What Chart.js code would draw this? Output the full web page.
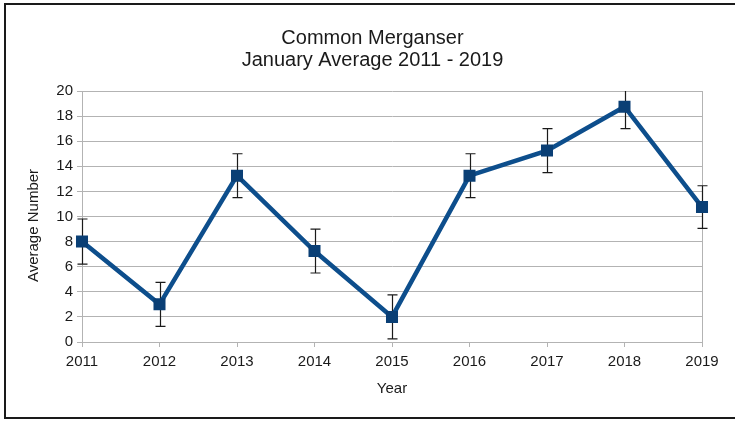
<!DOCTYPE html>
<html>
<head>
<meta charset="utf-8">
<script src="https://cdn.jsdelivr.net/npm/chart.js@4/dist/chart.umd.min.js"></script>
<style>
  html, body { margin: 0; padding: 0; background: #ffffff; }
  #wrap { width: 735px; height: 421px; }
</style>
</head>
<body>
<div id="wrap"><canvas id="c" width="735" height="421"></canvas></div>
<script>
// January averages of Common Merganser counts, with error bar half-widths
const years = ['2011', '2012', '2013', '2014', '2015', '2016', '2017', '2018', '2019'];
const averages = [8.0, 3.0, 13.25, 7.25, 2.0, 13.25, 15.25, 18.75, 10.75];
const errors = [1.8, 1.75, 1.75, 1.75, 1.75, 1.75, 1.75, 1.75, 1.7];
const yTicks = [0, 2, 4, 6, 8, 10, 12, 14, 16, 18, 20];
const yTitle = 'Average Number';

const GRID = '#b3b3b3';
const INK = '#1a1a1a';
const FONT = "'Liberation Sans', Arial, sans-serif";

// White page with a dark frame around the chart
const framePlugin = {
  id: 'frame',
  beforeDraw(chart) {
    const ctx = chart.ctx;
    ctx.save();
    ctx.fillStyle = '#ffffff';
    ctx.fillRect(0, 0, chart.width, chart.height);
    ctx.strokeStyle = INK;
    ctx.lineWidth = 2;
    ctx.strokeRect(5, 4, chart.width + 10, 414);
    ctx.restore();
  }
};

// Vertical error bars with caps, drawn underneath the line and markers,
// clipped to the plot area
const errorBarPlugin = {
  id: 'errorBars',
  beforeDatasetsDraw(chart) {
    const ctx = chart.ctx;
    const xs = chart.scales.x;
    const ys = chart.scales.y;
    const area = chart.chartArea;
    ctx.save();
    ctx.beginPath();
    ctx.rect(area.left - 10, area.top, area.right - area.left + 20, area.bottom - area.top);
    ctx.clip();
    ctx.strokeStyle = INK;
    ctx.lineWidth = 1.2;
    const cap = 5;
    averages.forEach((v, i) => {
      const x = Math.round(xs.getPixelForValue(i)) + 0.5;
      const yTop = ys.getPixelForValue(v + errors[i]);
      const yBot = ys.getPixelForValue(v - errors[i]);
      ctx.beginPath();
      ctx.moveTo(x, yTop);
      ctx.lineTo(x, yBot);
      ctx.moveTo(x - cap, yTop);
      ctx.lineTo(x + cap, yTop);
      ctx.moveTo(x - cap, yBot);
      ctx.lineTo(x + cap, yBot);
      ctx.stroke();
    });
    ctx.restore();
  }
};

// Rotated value-axis title, sitting a little below the plot's middle
const yTitlePlugin = {
  id: 'yTitle',
  afterDraw(chart) {
    const ctx = chart.ctx;
    const area = chart.chartArea;
    ctx.save();
    ctx.translate(34, (area.top + area.bottom) / 2 + 9);
    ctx.rotate(-Math.PI / 2);
    ctx.fillStyle = INK;
    ctx.font = '15px ' + FONT;
    ctx.textAlign = 'center';
    ctx.textBaseline = 'middle';
    ctx.fillText(yTitle, 0, 0);
    ctx.restore();
  }
};

new Chart(document.getElementById('c'), {
  type: 'line',
  data: {
    labels: years,
    datasets: [{
      data: averages,
      borderColor: '#0d4e8c',
      borderWidth: 4.5,
      backgroundColor: '#0a3f75',
      pointStyle: 'rect',
      pointRadius: 8.5,
      pointBackgroundColor: '#0a3f75',
      pointBorderColor: '#0a3f75',
      pointBorderWidth: 0,
      tension: 0,
      fill: false
    }]
  },
  options: {
    responsive: false,
    animation: false,
    devicePixelRatio: 1,
    layout: { padding: { left: 10, right: 0, top: 0, bottom: 0 } },
    plugins: {
      legend: { display: false },
      tooltip: { enabled: false },
      title: {
        display: true,
        text: ['Common Merganser', 'January Average 2011 - 2019'],
        color: INK,
        font: { family: FONT, size: 20, weight: 'normal', lineHeight: 21.5 / 20 },
        padding: { top: 28, bottom: 20 }
      }
    },
    scales: {
      x: {
        type: 'category',
        offset: false,
        afterFit(scale) { scale.height = 79; scale.paddingRight = 33; },
        border: { display: true, color: GRID, width: 1 },
        grid: {
          display: true,
          drawOnChartArea: true,
          drawTicks: true,
          tickLength: 5,
          color: (c) => (c.index === years.length - 1 ? GRID : 'rgba(0,0,0,0)'),
          tickColor: GRID
        },
        ticks: {
          color: INK,
          font: { family: FONT, size: 15 },
          padding: 6,
          maxRotation: 0,
          autoSkip: false
        },
        title: {
          display: true,
          text: 'Year',
          color: INK,
          font: { family: FONT, size: 15 },
          padding: { top: 0, bottom: 23 }
        }
      },
      y: {
        type: 'linear',
        min: 0,
        max: 20,
        afterFit(scale) { scale.width = 72; },
        afterBuildTicks(scale) { scale.ticks = yTicks.map(v => ({ value: v })); },
        border: { display: true, color: GRID, width: 1 },
        grid: {
          color: GRID,
          tickColor: GRID,
          tickLength: 5,
          drawTicks: true
        },
        ticks: {
          color: INK,
          font: { family: FONT, size: 15 },
          padding: 4
        },
        title: { display: false }
      }
    }
  },
  plugins: [framePlugin, errorBarPlugin, yTitlePlugin]
});
</script>
</body>
</html>
